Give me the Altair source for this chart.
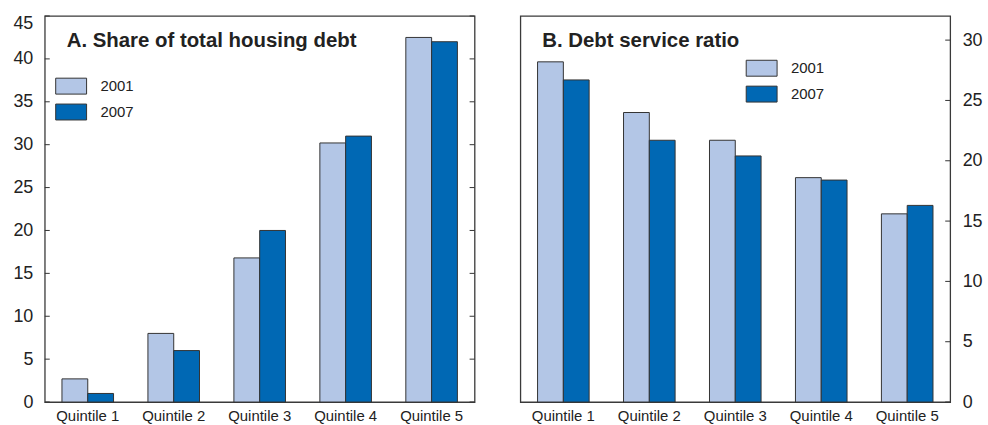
import altair as alt
import pandas as pd

quintiles = ["Quintile 1", "Quintile 2", "Quintile 3", "Quintile 4", "Quintile 5"]
years = ["2001", "2007"]

share_2001 = [2.7, 8.0, 16.8, 30.2, 42.5]
share_2007 = [1.0, 6.0, 20.0, 31.0, 42.0]

dsr_2001 = [28.2, 24.0, 21.7, 18.6, 15.6]
dsr_2007 = [26.7, 21.7, 20.4, 18.4, 16.3]

share_ticks = [0, 5, 10, 15, 20, 25, 30, 35, 40, 45]
dsr_ticks = [0, 5, 10, 15, 20, 25, 30]

title_a = "A. Share of total housing debt"
title_b = "B. Debt service ratio"

colors = ["#b3c6e6", "#0068b4"]
edge = "#333333"
font = "Liberation Sans"

W, H = 432, 388
TICK = 5


def long_frame(a, b):
    rows = []
    for q, va, vb in zip(quintiles, a, b):
        rows.append({"quintile": q, "year": years[0], "value": va})
        rows.append({"quintile": q, "year": years[1], "value": vb})
    return pd.DataFrame(rows)


swatch = "M-1.94,-1H1.94V1H-1.94Z"


def panel(df, ticks, ymax, title, axis_orient, legend_xy, left_ticks, right_ticks):
    yscale = alt.Scale(domain=[0, ymax], nice=False, zero=True)
    yaxis = alt.Axis(
        orient=axis_orient,
        values=ticks,
        ticks=False,
        tickSize=0,
        domain=False,
        grid=False,
        title=None,
        labelFontSize=18,
        labelFont=font,
        labelColor="#222222",
        labelPadding=12,
        labelOffset=alt.condition(f"datum.value == {ymax}", alt.value(8), alt.value(0)),
        minExtent=44 if axis_orient == "left" else 37,
        maxExtent=44 if axis_orient == "left" else 37,
    )
    bars = alt.Chart(df).mark_bar(stroke=edge, strokeWidth=1).encode(
        x=alt.X(
            "quintile:N",
            sort=quintiles,
            scale=alt.Scale(paddingInner=0.4, paddingOuter=0.2),
            axis=alt.Axis(
                title=None,
                ticks=False,
                domain=False,
                labelAngle=0,
                labelFontSize=15,
                labelFont=font,
                labelColor="#222222",
                labelPadding=7,
                minExtent=22,
                maxExtent=22,
            ),
        ),
        xOffset=alt.XOffset("year:N", sort=years),
        y=alt.Y("value:Q", scale=yscale, axis=yaxis),
        color=alt.Color(
            "year:N",
            scale=alt.Scale(domain=years, range=colors),
            legend=alt.Legend(
                title=None,
                orient="none",
                legendX=legend_xy[0],
                legendY=legend_xy[1],
                symbolType=swatch,
                symbolSize=256,
                symbolStrokeColor=edge,
                symbolStrokeWidth=1,
                symbolOpacity=1,
                labelFontSize=15,
                labelFont=font,
                labelColor="#222222",
                labelOffset=21,
                rowPadding=5,
                padding=0,
            ),
        ),
    )
    tick_df = pd.DataFrame({"v": ticks})
    layers = [bars]
    if left_ticks:
        layers.append(
            alt.Chart(tick_df).mark_rule(color=edge, strokeWidth=1).encode(
                x=alt.value(0), x2=alt.value(TICK), y=alt.Y("v:Q", scale=yscale)
            )
        )
    if right_ticks:
        layers.append(
            alt.Chart(tick_df).mark_rule(color=edge, strokeWidth=1).encode(
                x=alt.value(W - TICK), x2=alt.value(W), y=alt.Y("v:Q", scale=yscale)
            )
        )
    label = alt.Chart(pd.DataFrame({"t": [title]})).mark_text(
        align="left",
        baseline="alphabetic",
        fontSize=20.5,
        fontWeight="bold",
        font=font,
        color="#222222",
    ).encode(text="t:N", x=alt.value(22), y=alt.value(31))
    layers.append(label)
    return alt.layer(*layers).properties(width=W, height=H)


panel_a = panel(long_frame(share_2001, share_2007), share_ticks, 45, title_a,
                "left", (18, 62), True, True)
panel_b = panel(long_frame(dsr_2001, dsr_2007), dsr_ticks, 32, title_b,
                "right", (234, 44), False, True)

chart = (
    alt.hconcat(panel_a, panel_b, spacing=43)
    .resolve_scale(color="independent", y="independent")
    .resolve_legend(color="independent")
    .properties(padding={"left": 0, "top": 13, "right": 0, "bottom": 0}, background="white")
    .configure_view(stroke="#3a3a3a", strokeWidth=1.3)
)

chart.save("out.html", embed_options={"renderer": "svg", "actions": False})
